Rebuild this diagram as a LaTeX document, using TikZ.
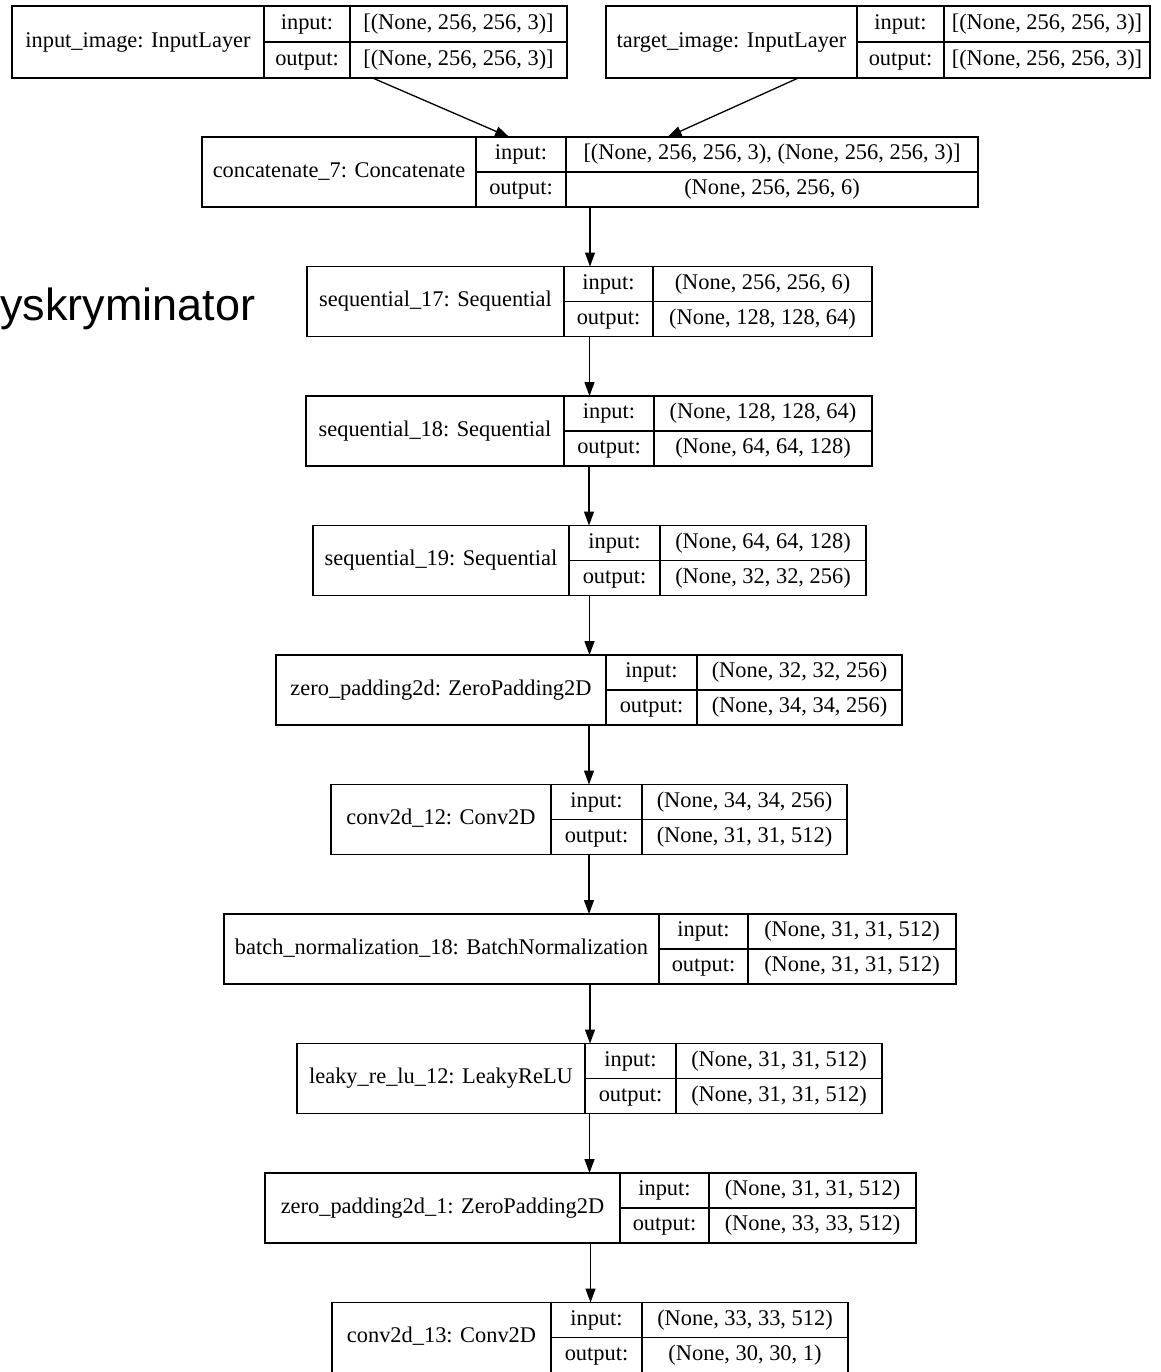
\documentclass[tikz,border=0pt]{standalone}
\usepackage{fontspec}
\setmainfont{Liberation Serif}
\newfontfamily\headfont{Liberation Sans}
\usetikzlibrary{arrows.meta}

% height of one layer box, in picture units
\newcommand{\bh}{70}

% #1 name, #2 left, #3 right, #4 top, #5 first divider, #6 second divider,
% #7 layer title, #8 input shape, #9 output shape
\newcommand{\layerbox}[9]{%
  \node[layer, minimum width={(#3-#2)*0.5pt}, minimum height={\bh*0.5pt},
        anchor=north west] (#1) at (#2,#4) {};
  \draw[rule] (#5,#4) -- (#5,{#4+\bh});
  \draw[rule] (#6,#4) -- (#6,{#4+\bh});
  \draw[rule] (#5,{#4+\bh/2}) -- (#3,{#4+\bh/2});
  \node[txt] (#1-t)  at ({(#2+#5)/2},{#4+\bh/2})   {#7};
  \node[txt] (#1-il) at ({(#5+#6)/2},{#4+\bh/4})   {input:};
  \node[txt] (#1-ol) at ({(#5+#6)/2},{#4+3*\bh/4}) {output:};
  \node[txt] (#1-iv) at ({(#6+#3)/2},{#4+\bh/4})   {#8};
  \node[txt] (#1-ov) at ({(#6+#3)/2},{#4+3*\bh/4}) {#9};
}

\tikzset{
  layer/.style={draw=black, line width=0.7pt, inner sep=0pt, outer sep=0pt},
  rule/.style={draw=black, line width=0.7pt},
  txt/.style={inner sep=0pt, font=\fontsize{11.2}{13}\selectfont,
              text height=7.6pt, text depth=2.4pt},
  heading/.style={inner sep=0pt, font=\headfont\fontsize{22.5}{27}\selectfont},
  conn/.style={draw=black, line width=0.65pt,
               -{Triangle[length=7pt,width=5pt]}},
}

\begin{document}
\begin{tikzpicture}[x=0.5pt,y=-0.5pt]
  \fill[white] (0,0) rectangle (1161,1372);
  \useasboundingbox (0,0) rectangle (1161,1372);

  % model inputs
  \renewcommand{\bh}{72}
  \layerbox{inp}{12}{567}{6}{264}{350}{input\_image: InputLayer}{[(None, 256, 256, 3)]}{[(None, 256, 256, 3)]}
  \layerbox{tgt}{606}{1150}{6}{857}{944}{target\_image: InputLayer}{[(None, 256, 256, 3)]}{[(None, 256, 256, 3)]}

  % layer stack
  \renewcommand{\bh}{70}
  \layerbox{cat}{202}{978}{137}{476}{566}{concatenate\_7: Concatenate}{[(None, 256, 256, 3), (None, 256, 256, 3)]}{(None, 256, 256, 6)}
  \layerbox{seqa}{307}{872}{266.5}{564}{653}{sequential\_17: Sequential}{(None, 256, 256, 6)}{(None, 128, 128, 64)}
  \layerbox{seqb}{306}{872}{396}{564}{654}{sequential\_18: Sequential}{(None, 128, 128, 64)}{(None, 64, 64, 128)}
  \layerbox{seqc}{313}{866}{525.5}{569}{660}{sequential\_19: Sequential}{(None, 64, 64, 128)}{(None, 32, 32, 256)}
  \layerbox{zpa}{276}{902}{655}{606}{697}{zero\_padding2d: ZeroPadding2D}{(None, 32, 32, 256)}{(None, 34, 34, 256)}
  \layerbox{cva}{331}{847}{784.5}{551}{642}{conv2d\_12: Conv2D}{(None, 34, 34, 256)}{(None, 31, 31, 512)}
  \layerbox{bn}{224}{956}{914}{659}{748}{batch\_normalization\_18: BatchNormalization}{(None, 31, 31, 512)}{(None, 31, 31, 512)}
  \layerbox{lrelu}{297}{882}{1043.5}{585}{676}{leaky\_re\_lu\_12: LeakyReLU}{(None, 31, 31, 512)}{(None, 31, 31, 512)}
  \layerbox{zpb}{265}{916}{1173}{620}{709}{zero\_padding2d\_1: ZeroPadding2D}{(None, 31, 31, 512)}{(None, 33, 33, 512)}
  \layerbox{cvb}{332}{848}{1302.5}{551}{642}{conv2d\_13: Conv2D}{(None, 33, 33, 512)}{(None, 30, 30, 1)}

  % side heading
  \node[heading, anchor=base west] (title) at (0,320) {yskryminator};

  % connections
  \draw[conn] (inp) -- (cat);
  \draw[conn] (tgt) -- (cat);
  \draw[conn] (cat.south)   -- (cat.south |- seqa.north);
  \draw[conn] (seqa.south)  -- (seqa.south |- seqb.north);
  \draw[conn] (seqb.south)  -- (seqb.south |- seqc.north);
  \draw[conn] (seqc.south)  -- (seqc.south |- zpa.north);
  \draw[conn] (zpa.south)   -- (zpa.south |- cva.north);
  \draw[conn] (cva.south)   -- (cva.south |- bn.north);
  \draw[conn] (bn.south)    -- (bn.south |- lrelu.north);
  \draw[conn] (lrelu.south) -- (lrelu.south |- zpb.north);
  \draw[conn] (zpb.south)   -- (zpb.south |- cvb.north);
\end{tikzpicture}
\end{document}
